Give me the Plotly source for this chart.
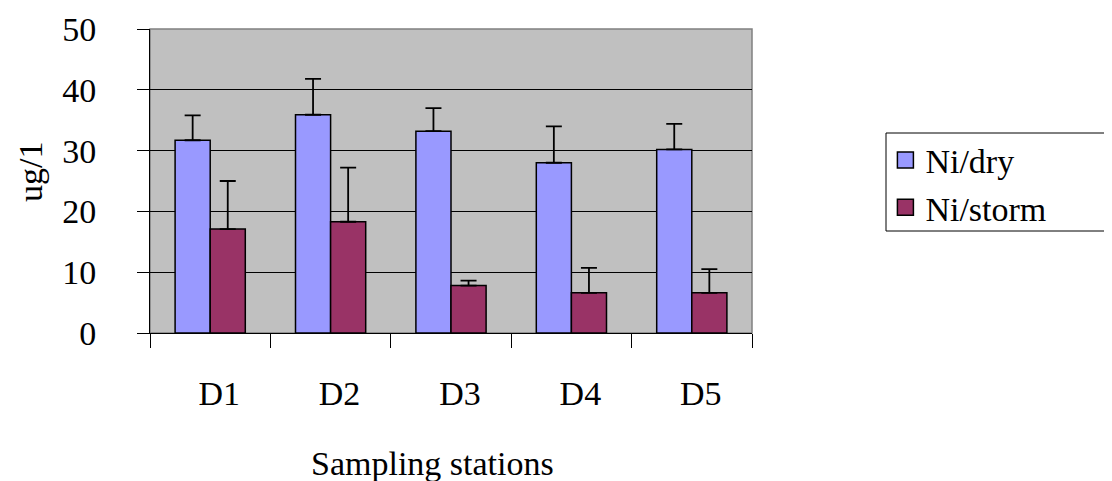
import plotly.graph_objects as go

stations = ["D1", "D2", "D3", "D4", "D5"]
ni_dry = [31.7, 35.9, 33.2, 28.0, 30.2]
ni_dry_err = [4.1, 5.9, 3.8, 6.0, 4.2]
ni_storm = [17.1, 18.3, 7.8, 6.6, 6.6]
ni_storm_err = [7.9, 8.9, 0.8, 4.1, 3.9]
y_ticks = [0, 10, 20, 30, 40, 50]

FONT = "Liberation Serif"
FS = 34
DRY = "#9999FF"
STORM = "#993366"

fig = go.Figure()
fig.add_trace(go.Bar(
    x=stations, y=ni_dry, name="Ni/dry", showlegend=False,
    marker=dict(color=DRY, line=dict(color="black", width=1.5)),
    error_y=dict(type="data", array=ni_dry_err, symmetric=False,
                 arrayminus=[0]*5, color="black", thickness=1.8, width=8),
))
fig.add_trace(go.Bar(
    x=stations, y=ni_storm, name="Ni/storm", showlegend=False,
    marker=dict(color=STORM, line=dict(color="black", width=1.5)),
    error_y=dict(type="data", array=ni_storm_err, symmetric=False,
                 arrayminus=[0]*5, color="black", thickness=1.8, width=8),
))
# legend entries with larger square swatches
for name, col in [("Ni/dry", DRY), ("Ni/storm", STORM)]:
    fig.add_trace(go.Scatter(
        x=[None], y=[None], mode="markers", name=name,
        marker=dict(symbol="square", size=17, color=col, line=dict(color="black", width=1.5)),
    ))

fig.update_layout(
    width=1104, height=473,
    margin=dict(l=142, r=360, t=21, b=148),
    paper_bgcolor="white", plot_bgcolor="#C0C0C0",
    barmode="group", bargap=0.417, bargroupgap=0,
    font=dict(family=FONT, size=FS, color="black"),
    showlegend=True,
    legend=dict(x=1.2216, y=0.663, xanchor="left", yanchor="top",
                borderwidth=0, bgcolor="rgba(0,0,0,0)",
                font=dict(family=FONT, size=FS), tracegroupgap=0,
                itemwidth=30),
    shapes=[
        dict(type="rect", xref="paper", yref="paper", x0=0, x1=1, y0=0, y1=1,
             line=dict(color="#808080", width=1.5), layer="below"),
        dict(type="rect", xref="paper", yref="paper",
             x0=(886 - 150) / 602, x1=(1109 - 150) / 602,
             y0=(333 - 231) / 304, y1=(333 - 133) / 304,
             line=dict(color="black", width=1), fillcolor="white", layer="below"),
    ],
    annotations=[
        dict(text="Sampling stations", xref="paper", yref="paper",
             x=(432 - 150) / 602, y=(333 - 463) / 304, xanchor="center", yanchor="middle",
             showarrow=False, font=dict(family=FONT, size=FS)),
        dict(text="ug/1", xref="paper", yref="paper", textangle=-90,
             x=(30 - 150) / 602, y=(333 - 172) / 304, xanchor="center", yanchor="middle",
             showarrow=False, font=dict(family=FONT, size=FS)),
    ],
)
fig.update_xaxes(
    type="category", range=[-0.5, 4.5], automargin=False,
    showline=True, linecolor="black", linewidth=1,
    ticks="outside", tickson="boundaries", ticklen=14, tickcolor="black", tickwidth=1,
    ticklabelstandoff=30, ticklabelshift=9,
    showgrid=False,
)
fig.update_yaxes(
    range=[0, 50], tickvals=y_ticks, automargin=False,
    showline=True, linecolor="black", linewidth=1,
    ticks="outside", ticklen=12, tickcolor="black", tickwidth=1,
    ticklabelstandoff=34,
    showgrid=True, gridcolor="black", gridwidth=1, zeroline=False,
)

fig.write_html("out.html")
